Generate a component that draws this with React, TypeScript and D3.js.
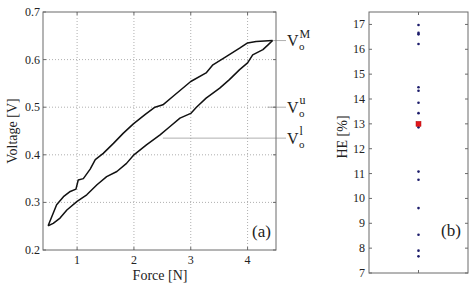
import React from "react";
import * as d3 from "d3";

// ---- Data (a): hysteresis loop ----
const forceLoad = [0.49, 0.64, 0.76, 0.88, 0.98, 1.02, 1.11, 1.23, 1.32, 1.46, 1.64, 1.81, 1.99, 2.2, 2.37, 2.51, 2.69, 3.0, 3.27, 3.39, 3.63, 3.86, 4.0, 4.15, 4.44];
const voltLoad = [0.251, 0.295, 0.312, 0.323, 0.328, 0.347, 0.35, 0.37, 0.39, 0.403, 0.424, 0.445, 0.465, 0.485, 0.5, 0.505, 0.523, 0.554, 0.572, 0.589, 0.607, 0.624, 0.635, 0.638, 0.64];
const forceUnload = [0.49, 0.58, 0.7, 0.82, 1.0, 1.17, 1.35, 1.52, 1.7, 1.87, 2.0, 2.22, 2.46, 2.63, 2.81, 3.0, 3.1, 3.27, 3.51, 3.68, 3.86, 4.0, 4.09, 4.27, 4.36, 4.44];
const voltUnload = [0.251, 0.256, 0.267, 0.284, 0.302, 0.316, 0.337, 0.354, 0.365, 0.382, 0.4, 0.421, 0.442, 0.459, 0.477, 0.487, 0.5, 0.519, 0.54, 0.558, 0.579, 0.593, 0.61, 0.621, 0.631, 0.64];
const xTicksA = [1, 2, 3, 4];
const yTicksA = [0.2, 0.3, 0.4, 0.5, 0.6, 0.7];
const annotSup = ["M", "u", "l"];
const annotVal = [0.64, 0.5, 0.435];
const annotFrom = [4.45, 4.35, 2.51];

// ---- Data (b): HE values ----
const heValues = [16.98, 16.66, 16.6, 16.21, 14.47, 14.33, 13.85, 13.43, 12.86, 11.08, 10.75, 9.61, 8.54, 7.9, 7.67];
const heMean = [13.0];
const yTicksB = [7, 8, 9, 10, 11, 12, 13, 14, 15, 16, 17];

const FONT = "'Liberation Serif', 'Times New Roman', serif";
const AX = "#6a6a6a";

export default function App() {
  // Plot (a)
  const ax = { l: 43, r: 276, t: 12, b: 250 };
  const x = d3.scaleLinear().domain([0.4, 4.5]).range([ax.l, ax.r]);
  const y = d3.scaleLinear().domain([0.2, 0.7]).range([ax.b, ax.t]);
  const line = d3.line<[number, number]>().x((d) => x(d[0])).y((d) => y(d[1]));
  const loadPts = forceLoad.map((f, i) => [f, voltLoad[i]] as [number, number]);
  const unloadPts = forceUnload.map((f, i) => [f, voltUnload[i]] as [number, number]);

  // Plot (b)
  const bx = { l: 369, r: 468, t: 12, b: 273 };
  const xb = d3.scaleLinear().domain([0.5, 1.5]).range([bx.l, bx.r]);
  const yb = d3.scaleLinear().domain([7, 17.5]).range([bx.b, bx.t]);

  const tk = 3;

  return (
    <svg width={475} height={285} style={{ position: "absolute", left: 0, top: 0, background: "#fff" }} fontFamily={FONT}>
      <rect width={475} height={285} fill="#fff" />
      {/* ---------- Plot (a) ---------- */}
      {xTicksA.map((t) => (
        <line key={"gx" + t} x1={x(t)} x2={x(t)} y1={ax.t} y2={ax.b} stroke="#9a9a9a" strokeWidth={0.8} strokeDasharray="1,2" />
      ))}
      {yTicksA.slice(1, -1).map((t) => (
        <line key={"gy" + t} x1={ax.l} x2={ax.r} y1={y(t)} y2={y(t)} stroke="#9a9a9a" strokeWidth={0.8} strokeDasharray="1,2" />
      ))}
      {annotVal.map((v, i) => (
        <line key={"al" + i} x1={x(annotFrom[i])} x2={286} y1={y(v)} y2={y(v)} stroke="#9a9a9a" strokeWidth={0.8} />
      ))}
      <path d={line(loadPts) || ""} fill="none" stroke="#111" strokeWidth={1.5} strokeLinejoin="round" />
      <path d={line(unloadPts) || ""} fill="none" stroke="#111" strokeWidth={1.5} strokeLinejoin="round" />
      <rect x={ax.l} y={ax.t} width={ax.r - ax.l} height={ax.b - ax.t} fill="none" stroke={AX} strokeWidth={1} />
      {xTicksA.map((t) => (
        <g key={"xt" + t}>
          <line x1={x(t)} x2={x(t)} y1={ax.b} y2={ax.b - tk} stroke={AX} />
          <line x1={x(t)} x2={x(t)} y1={ax.t} y2={ax.t + tk} stroke={AX} />
          <text x={x(t)} y={264} fontSize={12} textAnchor="middle" fill="#222">{d3.format("d")(t)}</text>
        </g>
      ))}
      {yTicksA.map((t) => (
        <g key={"yt" + t}>
          <line x1={ax.l} x2={ax.l + tk} y1={y(t)} y2={y(t)} stroke={AX} />
          <line x1={ax.r} x2={ax.r - tk} y1={y(t)} y2={y(t)} stroke={AX} />
          <text x={40} y={y(t) + 4} fontSize={12} textAnchor="end" fill="#222">{d3.format(".1f")(t)}</text>
        </g>
      ))}
      <text x={160} y={280} fontSize={14} textAnchor="middle" fill="#222">Force [N]</text>
      <text transform={`translate(17,131) rotate(-90)`} fontSize={14} textAnchor="middle" fill="#222">Voltage [V]</text>
      <text x={252} y={237} fontSize={17} fill="#222">(a)</text>
      {annotVal.map((v, i) => (
        <g key={"at" + i} fill="#222">
          <text x={287} y={y(v) + 5.5} fontSize={16}>V</text>
          <text x={299} y={y(v) + 9.5} fontSize={11}>o</text>
          <text x={299.5} y={y(v) - 3} fontSize={12}>{annotSup[i]}</text>
        </g>
      ))}

      {/* ---------- Plot (b) ---------- */}
      <rect x={bx.l} y={bx.t} width={bx.r - bx.l} height={bx.b - bx.t} fill="none" stroke={AX} strokeWidth={1} />
      {yTicksB.map((t) => (
        <g key={"ybt" + t}>
          <line x1={bx.l} x2={bx.l + tk} y1={yb(t)} y2={yb(t)} stroke={AX} />
          <line x1={bx.r} x2={bx.r - tk} y1={yb(t)} y2={yb(t)} stroke={AX} />
          <text x={365} y={yb(t) + 4} fontSize={12} textAnchor="end" fill="#222">{t}</text>
        </g>
      ))}
      <line x1={xb(1)} x2={xb(1)} y1={bx.t} y2={bx.t + tk} stroke={AX} />
      <line x1={xb(1)} x2={xb(1)} y1={bx.b} y2={bx.b - tk} stroke={AX} />
      {heValues.map((v, i) => (
        <circle key={"he" + i} cx={xb(1)} cy={yb(v)} r={1.3} fill="#1c1c6b" />
      ))}
      {heMean.map((v, i) => (
        <rect key={"hm" + i} x={xb(1) - 2.5} y={yb(v) - 2.5} width={5} height={5} fill="#e4161c" stroke="#b01010" strokeWidth={0.5} />
      ))}
      <text transform={`translate(347,137) rotate(-90)`} fontSize={14} textAnchor="middle" fill="#222">HE [%]</text>
      <text x={441} y={236} fontSize={17} fill="#222">(b)</text>
    </svg>
  );
}
